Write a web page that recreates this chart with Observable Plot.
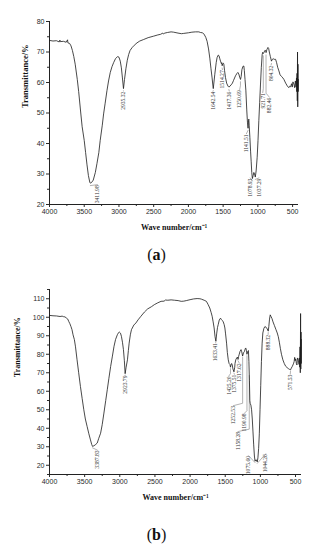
<!DOCTYPE html>
<html><head><meta charset="utf-8">
<script src="https://cdn.jsdelivr.net/npm/d3@7"></script>
<script src="https://cdn.jsdelivr.net/npm/@observablehq/plot@0.6"></script>
<style>
body{margin:0;background:#fff;width:313px;}
.cap{font-family:"Liberation Serif",serif;font-size:16px;text-align:center;color:#111;}
</style></head><body>
<div id="a"></div>
<div class="cap" style="height:30px;line-height:30px">(<b>a</b>)</div>
<div id="b"></div>
<div class="cap" style="height:40px;line-height:50px">(<b>b</b>)</div>
<script>
// ---------- spectrum (a) ----------
const aWn = [4000,3950,3900,3860,3850,3845,3800,3760,3740,3735,3710,3690,3670,3650,3630,3600,3580,3550,3530,3500,3480,3460,3440,3420,3412,3395,3370,3340,3317,3290,3270,3240,3221,3200,3173,3150,3125,3100,3077,3050,3020,3000,2981,2965,2950,2935,2920,2900,2880,2860,2840,2812,2780,2740,2700,2644,2580,2500,2440,2400,2370,2360,2340,2300,2250,2212,2150,2100,2067,2000,1950,1900,1850,1827,1800,1780,1769,1750,1731,1710,1692,1675,1659,1650,1642,1635,1620,1600,1587,1570,1560,1548,1538,1525,1520,1514,1505,1495,1490,1480,1466,1450,1430,1417,1400,1385,1370,1350,1322,1300,1288,1275,1262,1250,1240,1230,1215,1202,1195,1185,1173,1160,1150,1141,1135,1130,1125,1115,1105,1096,1088,1079,1068,1058,1048,1037,1025,1010,998,986,974,962,950,938,930,921,913,900,889,882,870,855,845,835,820,804,795,780,765,745,730,715,697,680,660,640,625,600,577,555,540,529,515,505,495,481,470,460,450,444,440,436,432,429,426,423,420,417];
const aT = [73.8,73.6,73.7,73.3,73.9,73.4,73.5,73.2,74.0,73.0,72.8,72.0,70.5,68.5,66,61,57,50,45.5,41,37,33,29.5,27.3,27,27.2,28,30.5,33.4,37,41,46,49.7,53,57.3,60.5,63.3,65.2,66.5,67.8,68.5,68.3,67,64.8,61.5,58,61,64.5,67.3,69.2,70.5,71.4,72.2,73,73.6,74.1,74.7,75.2,75.6,75.8,76.2,75.9,76.2,76.4,76.6,76.5,76.2,76,76.1,76.3,76.5,76.6,76.6,76.4,76.3,76,75.6,74.8,73.5,71,68,64.5,61.5,59.5,58,59.5,62.7,66.5,68.2,69,68.8,67.8,67,66.2,66.5,65.5,66.2,66.3,66,64,61.6,59.8,58.8,58.5,58.8,59.3,59.6,60.7,62.2,63,63.3,62.8,61.8,61,62,64.2,65.3,65.4,64,61,57.5,51,47,45,47.5,48,46,42,37.5,34,30.5,28.5,29.5,30.5,30,29,31,35.5,41,47.5,53.5,59.5,65,69.2,69.9,69.5,69.8,70.5,70.5,69.8,70.8,71.5,71.2,70,68.5,67,67.5,67.8,67.6,67.6,66.5,65,63.8,62.5,62,61.5,61,59.8,58.9,58.3,58.8,58.6,59.6,58.5,60.2,59.5,58.3,60.5,58.5,61.5,57,63,54,70,52,66,57,61];
const aPeaks = [3411.98,2935.32,1642.54,1514.27,1417.36,1250.69,1141.51,1078.93,1037.29,921.71,882.46,804.32];
const aLabels = ["3411.98","2935.32","1642.54","1514.27","1417.36","1250.69","1141.51","1078.93","1037.29","921.71","882.46","804.32"];
const aLabelX = [3310,2935,1650,1510,1412,1262,1165,1110,985,930,835,810];
const aLabelTop = [26.3,57,57,64,57,57.5,43,28.5,28.5,56.5,55,65.5];

// ---------- spectrum (b) ----------
const bWn = [4000,3950,3900,3850,3820,3800,3780,3760,3740,3727,3710,3695,3680,3665,3646,3630,3608,3585,3560,3535,3512,3490,3465,3440,3417,3400,3388,3369,3350,3321,3300,3273,3250,3226,3200,3178,3155,3130,3105,3082,3060,3034,3015,3006,2990,2977,2962,2948,2935,2924,2910,2891,2878,2867,2850,2834,2800,2771,2740,2700,2650,2604,2550,2509,2460,2413,2370,2350,2317,2270,2222,2170,2126,2090,2054,2000,1950,1900,1860,1840,1800,1768,1745,1720,1700,1686,1672,1658,1645,1633,1622,1610,1600,1585,1567,1555,1540,1528,1515,1505,1495,1481,1470,1457,1445,1433,1425,1418,1409,1400,1390,1376,1365,1361,1350,1337,1325,1318,1310,1303,1290,1275,1265,1253,1240,1227,1215,1208,1198,1191,1180,1170,1163,1156,1150,1145,1135,1125,1115,1105,1095,1085,1076,1068,1060,1052,1044,1035,1025,1015,1005,995,985,975,965,950,935,920,905,895,888,880,870,860,850,835,820,800,780,760,745,730,715,700,680,660,640,620,600,585,572,560,545,530,520,512,505,497,488,480,472,465,458,450,445,440,436,432,428,425,422,419,416];
const bT = [101,100.8,100.7,100.4,100.6,100.3,100.2,99.6,99,97.8,96.5,95,93.3,90.5,87.9,84,77,70,62.6,56,50,45,41,37,33.7,31.3,30.2,30.5,31,32,34.5,37.3,42,48.2,55,60.8,67,73.4,79,84.3,88,90.6,91.8,92,91.4,89.7,86.5,82.5,76.5,69.5,73,77,82,86,90.5,93.3,95.8,96.9,98.6,100.5,102.8,104.5,105.7,106.8,107.8,108.6,108.7,109.3,109.2,109.4,109.2,109,108.6,108.7,109,109.5,109.9,110.1,110,109.8,109.2,108.6,107,105,102.5,100.5,97.5,94.2,89.5,87,91,94.5,96,98.5,99.5,98.8,98.2,97.5,96,94.2,91,86,81,77,75,74.5,73,74.2,75,74.2,72,70.5,73,75,77,78,78.5,77.2,78.8,79.7,81.5,82.5,81.3,79,80.8,81.5,83,83.4,82,80,81.5,82,76,66,55,53.5,52.5,50,45,38,31,25,22.2,22.8,23,22.3,21.8,24,29,37,50,63,76,86,91.5,94,95,94.5,94,93,92.5,95,99,101.3,100.5,99.3,97.5,95.5,93.5,91.5,89.5,86.5,83,80,77,75,73.5,72.8,72.2,71.8,71.5,72.5,73.5,74.8,76,78.3,76.5,77.5,75,74.2,78,77.5,76.5,74.5,78,73,84,70,102,72,92,75,88];
const bPeaks = [3387.83,2923.79,1633.41,1425.20,1375.51,1317.62,1252.53,1190.98,1158.28,1075.60,1044.26,888.32,571.53];
const bLabels = ["3387.83","2923.79","1633.41","1425.20","1375.51","1317.62","1252.53","1190.98","1158.28","1075.60","1044.26","888.32","571.53"];
const bLabelX = [3320,2924,1640,1450,1370,1300,1385,1225,1320,1170,925,890,575];
const bLabelTop = [28,68.5,86,68,69,75,52,48,38,25,26,90.5,69];

// ---------- axes ----------
const xTicks = [4000,3500,3000,2500,2000,1500,1000,500];
const xMinor = [3750,3250,2750,2250,1750,1250,750];
const aYTicks = [20,30,40,50,60,70,80];
const aYMinor = [25,35,45,55,65,75];
const bYTicks = [20,30,40,50,60,70,80,90,100,110];
const bYMinor = [15,25,35,45,55,65,75,85,95,105,115];

function interp(wn, tr, w) {
  for (let i = 0; i < wn.length - 1; i++) {
    if (wn[i] >= w && w >= wn[i + 1]) {
      const f = (wn[i] - w) / (wn[i] - wn[i + 1]);
      return tr[i] + f * (tr[i + 1] - tr[i]);
    }
  }
  return tr[tr.length - 1];
}

function chart(o) {
  const data = o.wn.map((w, i) => ({w, t: o.tr[i]}));
  const leaders = [];
  o.peaks.forEach((p, i) => {
    const pt = interp(o.wn, o.tr, p);
    const lt = o.labelTop[i];
    leaders.push({w: p, t: pt - 0.8, k: i});
    if (pt - 0.8 > lt + 2.5) leaders.push({w: p, t: lt + 1.5, k: i});
    leaders.push({w: o.labelX[i], t: lt + 0.2, k: i});
  });
  const lab = o.peaks.map((p, i) => ({x: o.labelX[i], y: o.labelTop[i], s: o.labels[i]}));
  return Plot.plot({
    width: 313, height: 240,
    marginTop: o.marginTop, marginBottom: 36, marginLeft: 49, marginRight: o.marginRight,
    style: {fontFamily: "'Liberation Sans', Arial, sans-serif", fontSize: "7px", color: "#2a2a2a", background: "#fff"},
    x: {domain: o.xDomain},
    y: {domain: o.yDomain},
    marks: [
      Plot.axisX({ticks: xTicks, tickSize: 3, tickPadding: 2, tickFormat: d => String(d), label: null}),
      Plot.axisX({ticks: xMinor, tickSize: 2, tickFormat: () => "", label: null}),
      Plot.axisY({ticks: o.yTicks, tickSize: 3, tickPadding: 2, tickFormat: d => String(d), label: null}),
      Plot.axisY({ticks: o.yMinor, tickSize: 2, tickFormat: () => "", label: null}),
      Plot.ruleY([o.yDomain[0]], {stroke: "#222", strokeWidth: 1}),
      Plot.ruleX([o.xDomain[0]], {stroke: "#222", strokeWidth: 1}),
      Plot.line(leaders, {x: "w", y: "t", z: "k", stroke: "#666", strokeWidth: 0.5}),
      Plot.line(data, {x: "w", y: "t", stroke: "#1a1a1a", strokeWidth: 0.8}),
      Plot.text(lab, {x: "x", y: "y", text: "s", rotate: -90, textAnchor: "end", lineAnchor: "middle",
        fontSize: 5.6, fontFamily: "'Liberation Serif', serif", fill: "#333"}),
      Plot.text(["Wave number/cm\u207B\u00B9"], {frameAnchor: "bottom", dy: 25, fontWeight: "bold",
        fontFamily: "'Liberation Serif', serif", fontSize: 8, fill: "#111"}),
      Plot.text(["Transmittance/%"], {frameAnchor: "left", rotate: -90, dx: o.ylabelDx, dy: -5, fontWeight: "bold",
        fontFamily: "'Liberation Serif', serif", fontSize: o.ylabelSize, fill: "#111"})
    ]
  });
}

document.getElementById("a").append(chart({
  wn: aWn, tr: aT, peaks: aPeaks, labels: aLabels, labelX: aLabelX, labelTop: aLabelTop,
  xDomain: [4000, 415], yDomain: [20, 80], yTicks: aYTicks, yMinor: aYMinor,
  marginTop: 21, marginRight: 15, ylabelDx: -24, ylabelSize: 8.5
}));
document.getElementById("b").append(chart({
  wn: bWn, tr: bT, peaks: bPeaks, labels: bLabels, labelX: bLabelX, labelTop: bLabelTop,
  xDomain: [4000, 415], yDomain: [15, 115], yTicks: bYTicks, yMinor: bYMinor,
  marginTop: 19, marginRight: 12, ylabelDx: -32, ylabelSize: 8
}));
</script>
</body></html>
